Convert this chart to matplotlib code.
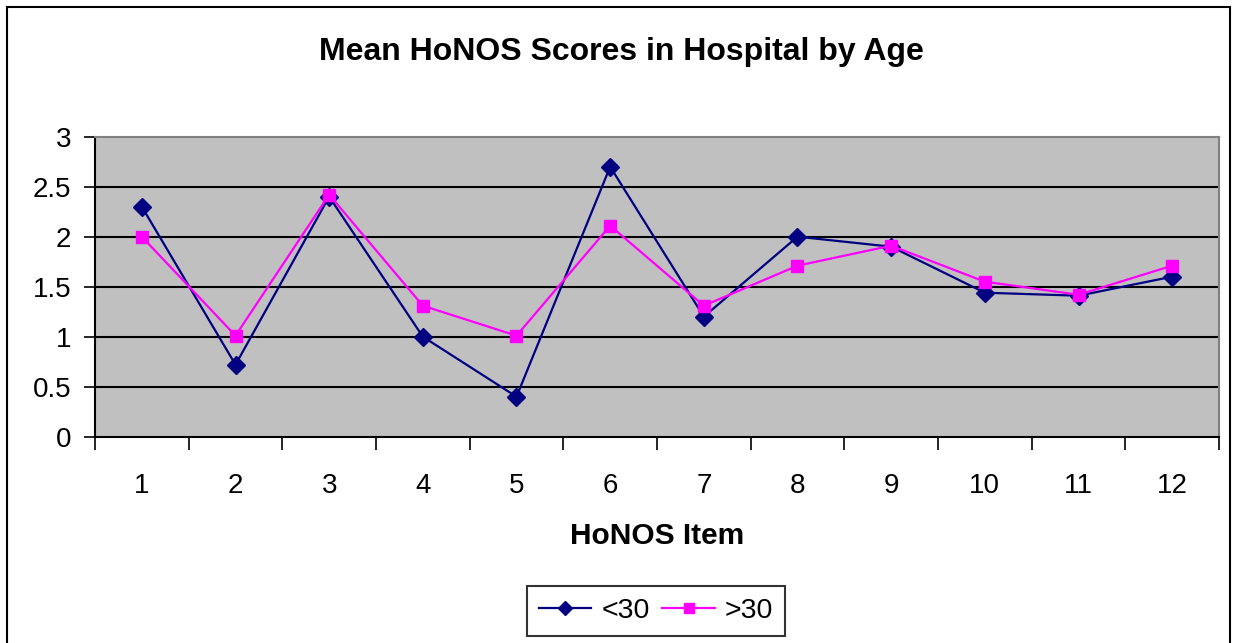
import numpy as np
import matplotlib
matplotlib.use("Agg")
import matplotlib.pyplot as plt
from matplotlib.patches import Rectangle

plt.rcParams['font.family'] = ['Liberation Sans', 'DejaVu Sans']

# HoNOS items and mean scores
items = [1, 2, 3, 4, 5, 6, 7, 8, 9, 10, 11, 12]
under30 = [2.3, 0.72, 2.4, 1.0, 0.4, 2.7, 1.2, 2.0, 1.9, 1.44, 1.41, 1.6]
over30 = [2.0, 1.01, 2.42, 1.31, 1.01, 2.11, 1.31, 1.71, 1.91, 1.55, 1.42, 1.71]
yticks = [0, 0.5, 1, 1.5, 2, 2.5, 3]
ytick_labels = ["0", "0.5", "1", "1.5", "2", "2.5", "3"]

fig = plt.figure(figsize=(12.35, 6.43), dpi=100)

# outer chart border like Excel
fig.patches.append(Rectangle((7 / 1235, -0.01), 1223 / 1235, 1 - 7 / 643 + 0.01,
                             transform=fig.transFigure, fill=False,
                             edgecolor="black", linewidth=1.5))

ax = fig.add_axes([95 / 1235, 1 - 436.7 / 643, 1124 / 1235, 300 / 643])
ax.set_facecolor("#C0C0C0")

ax.plot(items, under30, color="#000080", marker="D", markersize=9,
        linewidth=1.6, label="<30", zorder=3)
ax.plot(items, over30, color="#FF00FF", marker="s", markersize=8.5,
        linewidth=1.6, label=">30", zorder=4)

ax.set_ylim(0, 3)
ax.set_xlim(0.5, 12.5)
ax.set_yticks(yticks)
ax.set_yticklabels(ytick_labels, fontsize=20)
for y in yticks[1:-1]:
    ax.axhline(y, color="black", linewidth=1.5, zorder=1)

# category boundaries get the tick marks, labels sit between them
ax.set_xticks(np.arange(0.5, 13, 1))
ax.set_xticklabels([])
ax.set_xticks(items, minor=True)
ax.set_xticklabels([str(i) for i in items], minor=True, fontsize=20)
ax.tick_params(axis="x", which="major", direction="out", length=9, width=1.2)
ax.tick_params(axis="x", which="minor", length=0, pad=26)
ax.tick_params(axis="y", direction="out", length=8, width=1.2, pad=9)

ax.spines["left"].set_linewidth(1.5)
ax.spines["bottom"].set_linewidth(1.5)
ax.spines["top"].set_color("#808080")
ax.spines["right"].set_color("#808080")
ax.spines["top"].set_linewidth(1.5)
ax.spines["right"].set_linewidth(1.5)

ax.set_xlabel("HoNOS Item", fontsize=21.5, fontweight="bold", labelpad=17)
fig.text(0.503, 1 - 52 / 643, "Mean HoNOS Scores in Hospital by Age",
         ha="center", va="center", fontsize=23, fontweight="bold")

leg = ax.legend(loc="center", bbox_to_anchor=(656 / 1235, 1 - 611 / 643),
                bbox_transform=fig.transFigure, ncol=2, fontsize=20.5,
                frameon=True, fancybox=False, edgecolor="black",
                handlelength=1.85, handletextpad=0.35, columnspacing=0.45,
                borderpad=0.42, borderaxespad=0, markerscale=0.8)
leg.get_frame().set_linewidth(1.5)

fig.savefig("out.png", dpi=100)
